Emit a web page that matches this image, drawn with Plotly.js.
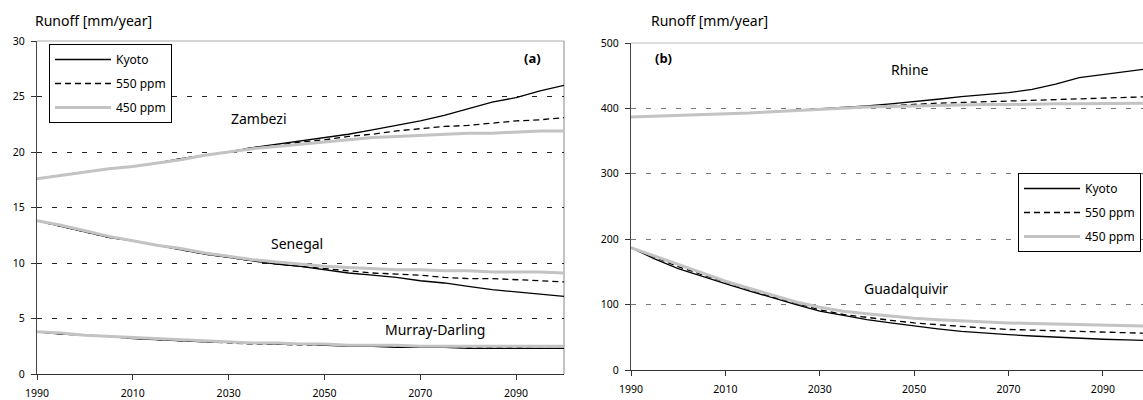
<!DOCTYPE html>
<html>
<head>
<meta charset="utf-8">
<script src="https://cdn.plot.ly/plotly-3.0.1.min.js"></script>
<style>html,body{margin:0;padding:0;background:#fff;}#chart{width:1143px;height:400px;}</style>
</head>
<body>
<div id="chart"></div>
<script>
const years = [1990,1995,2000,2005,2010,2015,2020,2025,2030,2035,2040,2045,2050,2055,2060,2065,2070,2075,2080,2085,2090,2095,2100];

// Panel (a)
const zambeziKyoto = [17.6,17.9,18.2,18.5,18.7,19.0,19.4,19.7,20.0,20.4,20.7,21.0,21.3,21.6,22.0,22.4,22.8,23.3,23.9,24.5,24.9,25.5,26.0];
const zambezi550   = [17.6,17.9,18.2,18.5,18.7,19.0,19.4,19.7,20.0,20.4,20.6,20.9,21.1,21.4,21.6,21.9,22.1,22.3,22.4,22.6,22.8,22.9,23.1];
const zambezi450   = [17.6,17.9,18.2,18.5,18.7,19.0,19.3,19.7,20.0,20.3,20.5,20.7,20.9,21.1,21.3,21.4,21.5,21.6,21.7,21.7,21.8,21.9,21.9];

const senegalKyoto = [13.8,13.3,12.8,12.3,12.0,11.6,11.2,10.8,10.5,10.2,9.9,9.7,9.4,9.1,8.9,8.7,8.4,8.2,7.9,7.6,7.4,7.2,7.0];
const senegal550   = [13.8,13.3,12.8,12.3,12.0,11.6,11.2,10.8,10.5,10.2,9.9,9.7,9.5,9.3,9.1,9.0,8.9,8.7,8.6,8.6,8.5,8.4,8.3];
const senegal450   = [13.8,13.4,12.9,12.4,12.0,11.6,11.3,10.9,10.6,10.3,10.1,9.9,9.7,9.6,9.5,9.4,9.4,9.3,9.3,9.2,9.2,9.2,9.1];

const murrayKyoto  = [3.8,3.6,3.5,3.4,3.2,3.1,3.0,2.9,2.9,2.8,2.7,2.7,2.6,2.5,2.5,2.4,2.4,2.4,2.3,2.3,2.3,2.3,2.3];
const murray550    = [3.8,3.6,3.5,3.4,3.2,3.1,3.0,2.9,2.8,2.7,2.7,2.6,2.6,2.6,2.5,2.5,2.4,2.4,2.4,2.4,2.4,2.3,2.3];
const murray450    = [3.8,3.7,3.5,3.4,3.3,3.2,3.1,3.0,2.9,2.8,2.8,2.7,2.7,2.6,2.6,2.6,2.5,2.5,2.5,2.5,2.5,2.5,2.5];

// Panel (b)
const rhineKyoto = [387,388,389,390,391,393,395,397,400,402,404,407,410,414,418,421,424,429,437,447,452,457,461];
const rhine550   = [387,388,389,390,391,393,395,397,399,401,403,405,406,408,409,410,411,412,413,414,415,416,418];
const rhine450   = [387,388,389,390,391,393,395,397,399,401,402,403,404,405,405,406,406,407,407,407,407,408,408];

const guadKyoto = [187,170,155,143,132,121,110,100,90,83,77,72,67,63,59,56,54,52,50,48,47,46,45];
const guad550   = [187,172,158,146,134,123,112,102,92,85,80,76,72,69,66,64,62,61,60,59,58,57,56];
const guad450   = [187,174,161,148,136,125,114,104,96,90,86,82,79,77,75,74,72,71,70,69,68,67,67];

const scenarios = ["Kyoto","550 ppm","450 ppm"];
const yTicksA = [0,5,10,15,20,25,30];
const yTicksB = [0,100,200,300,400,500];
const xTicks = [1990,2010,2030,2050,2070,2090];

const styles = {
  "Kyoto":   {color:"#000000", width:1.3, dash:"solid"},
  "550 ppm": {color:"#000000", width:1.3, dash:"6px,4px"},
  "450 ppm": {color:"#c3c3c3", width:3, dash:"solid"}
};

const traces = [];
function addBasin(vals, xa, ya, legendName, showLeg){
  vals.forEach((v,i)=>{
    const s = scenarios[i];
    traces.push({
      x: years, y: v, xaxis: xa, yaxis: ya, type: "scatter", mode: "lines",
      name: s, legend: legendName, legendgroup: legendName + s,
      showlegend: showLeg, line: {color: styles[s].color, width: styles[s].width, dash: styles[s].dash},
      hoverinfo: "x+y+name"
    });
  });
}
addBasin([zambeziKyoto, zambezi550, zambezi450], "x", "y", "legend", true);
addBasin([senegalKyoto, senegal550, senegal450], "x", "y", "legend", false);
addBasin([murrayKyoto, murray550, murray450], "x", "y", "legend", false);
addBasin([rhineKyoto, rhine550, rhine450], "x2", "y2", "legend2", true);
addBasin([guadKyoto, guad550, guad450], "x2", "y2", "legend2", false);

const W = 1143, H = 400;
const font = "Noto Sans, DejaVu Sans, sans-serif";
const tickFont = {family: font, size: 10.5, color: "#000"};

function xAxis(domain, range, anchor){
  return {domain: domain, range: range, anchor: anchor, tickvals: xTicks, ticktext: xTicks.map(String),
    showgrid: false, zeroline: false, showline: true, linecolor: "#333", linewidth: 1.2,
    ticks: "outside", ticklen: 5, tickwidth: 1, tickcolor: "#333", tickfont: tickFont,
    ticklabelstandoff: 4, fixedrange: true};
}
function yAxis(domain, range, anchor, ticks, gridColor){
  return {domain: domain, range: range, anchor: anchor, tickvals: ticks, ticktext: ticks.map(String),
    showgrid: true, gridcolor: gridColor, griddash: "5px,10px", gridwidth: 1,
    zeroline: false, showline: true, linecolor: "#444", linewidth: 1.2,
    ticks: "outside", ticklen: 5, tickwidth: 1, tickcolor: "#333", tickfont: tickFont,
    ticklabelstandoff: 4, fixedrange: true};
}

const legendBase = {xanchor: "left", yanchor: "top", bgcolor: "#fff",
    bordercolor: "#000", borderwidth: 1, font: {family: font, size: 12, color: "#000"},
    itemwidth: 56, tracegroupgap: 5, traceorder: "grouped", itemclick: false, itemdoubleclick: false};

const layout = {
  width: W, height: H, margin: {l:0, r:0, t:0, b:0},
  paper_bgcolor: "#fff", plot_bgcolor: "rgba(0,0,0,0)",
  font: {family: font, color: "#000"},
  xaxis: xAxis([37/W, 564/W], [1990, 2100], "y"),
  yaxis: yAxis([(H-374)/H, (H-41)/H], [0, 30], "x", yTicksA, "#222"),
  xaxis2: xAxis([631/W, 1], [1990, 2098.5], "y2"),
  yaxis2: yAxis([(H-370)/H, (H-43)/H], [0, 500], "x2", yTicksB, "#777"),
  legend: Object.assign({}, legendBase, {x: 49/W, y: (H-44)/H}),
  legend2: Object.assign({}, legendBase, {x: 1018/W, y: (H-173)/H}),
  shapes: [
    {type:"line", xref:"x domain", yref:"y domain", x0:0, x1:1, y0:1, y1:1, line:{color:"#aaa", width:1}, layer:"below"},
    {type:"line", xref:"x domain", yref:"y domain", x0:1, x1:1, y0:0, y1:1, line:{color:"#888", width:1}, layer:"below"},
    {type:"line", xref:"x2 domain", yref:"y2 domain", x0:0, x1:1, y0:1, y1:1, line:{color:"#bbb", width:1}, layer:"below"}
  ],
  annotations: [
    {xref:"paper", yref:"paper", x:33/W, y:(H-21)/H, xanchor:"left", yanchor:"middle", showarrow:false,
     text:"Runoff [mm/year]", font:{family:font, size:14, color:"#000"}},
    {xref:"paper", yref:"paper", x:649/W, y:(H-21)/H, xanchor:"left", yanchor:"middle", showarrow:false,
     text:"Runoff [mm/year]", font:{family:font, size:14, color:"#000"}},
    {xref:"x", yref:"y", x:2036.3, y:23.0, showarrow:false, text:"Zambezi", font:{family:font, size:14}},
    {xref:"x", yref:"y", x:2044.3, y:11.8, showarrow:false, text:"Senegal", font:{family:font, size:14}},
    {xref:"x", yref:"y", x:2073.1, y:4.05, showarrow:false, text:"Murray-Darling", font:{family:font, size:14}},
    {xref:"x", yref:"y", x:2093.5, y:28.5, showarrow:false, text:"<b>(a)</b>", font:{family:font, size:13}},
    {xref:"x2", yref:"y2", x:2049.1, y:459, showarrow:false, text:"Rhine", font:{family:font, size:14}},
    {xref:"x2", yref:"y2", x:2048.3, y:124, showarrow:false, text:"Guadalquivir", font:{family:font, size:14}},
    {xref:"x2", yref:"y2", x:1996.8, y:477, showarrow:false, text:"<b>(b)</b>", font:{family:font, size:13}}
  ],
  showlegend: true
};

Plotly.newPlot("chart", traces, layout, {displayModeBar: false, staticPlot: false});
</script>
</body>
</html>
